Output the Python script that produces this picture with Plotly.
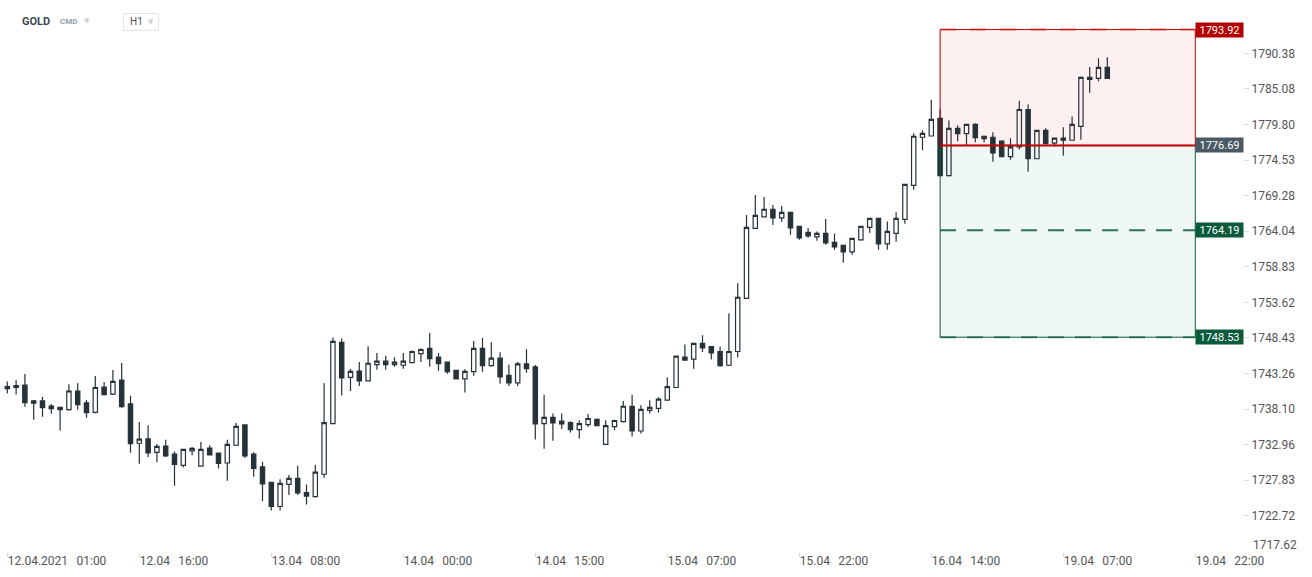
import math
import plotly.graph_objects as go

# ---------------- data (GOLD, H1) ----------------
opens = [1741.07, 1741.22, 1741.55, 1738.94, 1739.28, 1738.54, 1738.35, 1738.00, 1740.71, 1738.98,
         1737.61, 1741.26, 1740.26, 1742.29, 1738.84, 1733.15, 1733.78, 1731.83, 1732.75, 1731.58,
         1729.95, 1732.06, 1729.86, 1732.46, 1731.73, 1730.30, 1732.86, 1735.80, 1731.58, 1729.76,
         1727.51, 1724.04, 1727.21, 1728.09, 1726.04, 1725.45, 1728.68, 1736.00, 1747.77, 1742.69,
         1743.61, 1742.19, 1744.54, 1745.04, 1744.54, 1744.45, 1744.83, 1746.15, 1746.89, 1745.63,
         1744.89, 1743.72, 1742.48, 1743.51, 1746.89, 1744.39, 1745.48, 1742.98, 1741.89, 1744.64,
         1744.20, 1736.00, 1736.88, 1736.34, 1736.14, 1735.12, 1735.85, 1736.59, 1733.00, 1735.56,
         1736.29, 1738.50, 1734.92, 1737.91, 1738.20, 1739.38, 1741.22, 1745.63, 1745.33, 1747.62,
         1747.18, 1746.45, 1744.45, 1746.45, 1754.21, 1764.45, 1766.16, 1767.27, 1766.01, 1766.82,
         1764.75, 1763.86, 1763.22, 1763.72, 1762.39, 1761.95, 1761.01, 1762.78, 1764.60, 1765.92,
         1762.19, 1763.72, 1765.77, 1770.79, 1777.90, 1778.09, 1780.70, 1772.22, 1779.23, 1778.43,
         1779.81, 1778.05, 1777.90, 1777.32, 1775.02, 1776.49, 1782.02, 1774.72, 1778.93, 1777.02,
         1777.76, 1777.46, 1779.52, 1786.49, 1786.65, 1788.29]
highs = [1742.10, 1742.29, 1743.17, 1739.42, 1739.86, 1738.84, 1738.40, 1741.70, 1741.85, 1739.42,
         1742.88, 1742.00, 1743.76, 1744.79, 1740.01, 1736.22, 1735.75, 1733.05, 1733.64, 1731.97,
         1732.35, 1732.61, 1733.34, 1732.86, 1731.80, 1733.64, 1736.08, 1735.90, 1731.87, 1730.49,
         1727.60, 1727.95, 1728.58, 1729.90, 1727.21, 1730.05, 1741.85, 1748.50, 1748.36, 1743.91,
         1744.94, 1747.22, 1746.23, 1745.82, 1745.63, 1746.23, 1746.59, 1746.93, 1749.14, 1746.23,
         1745.00, 1743.80, 1743.86, 1747.96, 1748.40, 1747.81, 1746.34, 1744.54, 1744.94, 1746.78,
         1744.49, 1740.16, 1737.47, 1737.47, 1736.34, 1736.48, 1737.37, 1736.73, 1736.48, 1736.55,
         1739.28, 1740.16, 1738.64, 1739.38, 1739.82, 1742.69, 1745.85, 1747.47, 1747.70, 1748.80,
         1747.25, 1747.18, 1752.01, 1756.40, 1766.41, 1769.37, 1769.07, 1767.90, 1767.75, 1766.90,
         1764.85, 1764.50, 1764.01, 1765.82, 1763.72, 1762.05, 1763.05, 1764.85, 1766.00, 1766.00,
         1765.48, 1766.82, 1771.00, 1778.49, 1778.93, 1783.45, 1782.06, 1780.40, 1779.67, 1779.90,
         1779.96, 1778.15, 1778.64, 1777.46, 1777.76, 1783.30, 1782.77, 1779.00, 1779.23, 1777.85,
         1779.37, 1780.99, 1786.94, 1788.34, 1789.63, 1789.78]
lows = [1740.35, 1740.20, 1738.44, 1736.53, 1736.97, 1737.41, 1735.00, 1737.85, 1738.00, 1736.82,
        1737.50, 1740.06, 1740.15, 1738.30, 1731.77, 1730.20, 1731.18, 1730.40, 1731.18, 1727.01,
        1729.65, 1731.43, 1729.75, 1731.40, 1729.51, 1727.74, 1732.75, 1731.04, 1728.33, 1724.78,
        1723.46, 1723.46, 1725.68, 1725.68, 1724.34, 1725.35, 1728.18, 1735.90, 1740.06, 1740.72,
        1741.45, 1742.10, 1743.80, 1743.80, 1744.24, 1743.95, 1744.75, 1744.94, 1744.24, 1743.66,
        1743.22, 1742.40, 1740.50, 1742.92, 1743.51, 1744.24, 1741.75, 1741.45, 1741.45, 1743.36,
        1733.68, 1732.36, 1733.53, 1735.20, 1734.71, 1733.83, 1735.50, 1735.60, 1732.90, 1735.06,
        1736.14, 1734.12, 1734.56, 1737.47, 1737.61, 1739.30, 1741.15, 1745.10, 1743.95, 1746.39,
        1745.27, 1744.24, 1744.35, 1745.56, 1754.10, 1764.35, 1766.05, 1764.94, 1765.42, 1763.51,
        1762.78, 1763.07, 1762.63, 1762.04, 1761.31, 1759.42, 1760.57, 1762.63, 1763.80, 1761.31,
        1761.31, 1762.48, 1765.13, 1770.15, 1775.96, 1778.00, 1772.10, 1772.10, 1777.32, 1776.65,
        1777.16, 1777.16, 1774.28, 1774.95, 1774.57, 1776.10, 1772.81, 1774.65, 1776.90, 1776.49,
        1775.16, 1777.40, 1777.55, 1784.52, 1786.21, 1786.60]
closes = [1741.36, 1741.51, 1739.03, 1739.28, 1738.29, 1738.14, 1738.00, 1740.71, 1738.73, 1737.56,
          1741.22, 1740.20, 1742.10, 1738.44, 1733.09, 1733.74, 1731.77, 1732.71, 1731.33, 1730.09,
          1732.27, 1732.42, 1732.27, 1731.48, 1730.24, 1733.00, 1735.60, 1731.33, 1729.51, 1727.30,
          1724.04, 1727.36, 1728.09, 1725.98, 1725.54, 1728.98, 1736.14, 1747.92, 1742.63, 1743.57,
          1742.19, 1744.74, 1745.04, 1744.54, 1744.89, 1745.04, 1746.45, 1746.74, 1745.42, 1744.69,
          1743.51, 1742.48, 1743.57, 1746.89, 1744.39, 1745.48, 1742.77, 1741.89, 1744.64, 1743.95,
          1735.94, 1736.88, 1736.09, 1735.94, 1735.12, 1736.00, 1736.73, 1735.71, 1735.71, 1736.44,
          1738.50, 1734.92, 1738.06, 1738.35, 1739.53, 1741.36, 1745.77, 1745.19, 1747.62, 1746.98,
          1746.24, 1744.39, 1746.45, 1754.36, 1764.60, 1766.36, 1767.27, 1766.01, 1766.82, 1764.54,
          1763.07, 1763.36, 1763.72, 1762.33, 1761.75, 1761.01, 1762.98, 1764.75, 1765.92, 1762.19,
          1764.01, 1765.92, 1770.94, 1778.05, 1778.49, 1780.55, 1772.22, 1779.23, 1778.43, 1779.81,
          1777.84, 1777.70, 1775.60, 1775.02, 1776.49, 1782.02, 1774.72, 1778.93, 1776.96, 1777.76,
          1777.46, 1779.81, 1786.79, 1786.79, 1788.29, 1786.65]
candle_idx = list(range(len(opens)))

tick_idx = [0, 15, 30, 45, 60, 75, 90, 105, 120, 135]
tick_labels = ["12.04.2021 01:00", "12.04 16:00", "13.04 08:00", "14.04 00:00", "14.04 15:00",
               "15.04 07:00", "15.04 22:00", "16.04 14:00", "19.04 07:00", "19.04 22:00"]
price_ticks = [1790.38, 1785.08, 1779.80, 1774.53, 1769.28, 1764.04, 1758.83, 1753.62,
               1748.43, 1743.26, 1738.10, 1732.96, 1727.83, 1722.72, 1717.62]

level_tp = 1793.92
level_entry = 1776.69
level_mid = 1764.19
level_sl = 1748.53
zone_start = 106
zone_end = 135

symbol = "GOLD"
market = "CMD"
interval = "H1"

# ---------------- layout geometry ----------------
W, H = 1312, 577
PL, PR, PT, PB = 0, 1243, 0, 552
STEP = 8.8          # px per candle
FIRST = 7.3         # px of first candle centre


def pxx(x):
    return (x - PL) / (PR - PL)


def pyy(y):
    return 1 - (y - PT) / (PB - PT)


x_range = [(PL - FIRST) / STEP, (PR - FIRST) / STEP]
k = (math.log10(price_ticks[0]) - math.log10(price_ticks[-1])) / (551.3 - 53.3)
y_range = [math.log10(price_ticks[-1]) - (PB - 551.3) * k,
           math.log10(price_ticks[0]) + (53.3 - PT) * k]

DARK = "#263238"
RED = "#b30000"
GREEN = "#0b5a3c"
SP = "\u00a0\u00a0\u2009"

fig = go.Figure()
fig.add_trace(go.Candlestick(
    x=candle_idx, open=opens, high=highs, low=lows, close=closes,
    increasing=dict(line=dict(color=DARK, width=1.2), fillcolor="rgba(255,255,255,0)"),
    decreasing=dict(line=dict(color=DARK, width=1.2), fillcolor=DARK),
    whiskerwidth=0, showlegend=False, hoverinfo="skip",
))

shapes = []
# zone fills
shapes.append(dict(type="rect", xref="x", yref="y", x0=zone_start, x1=zone_end,
                   y0=level_entry, y1=level_tp, fillcolor="#fdf0f0", line=dict(width=0), layer="below"))
shapes.append(dict(type="rect", xref="x", yref="y", x0=zone_start, x1=zone_end,
                   y0=level_sl, y1=level_entry, fillcolor="#eff8f4", line=dict(width=0), layer="below"))
# zone borders
shapes.append(dict(type="rect", xref="x", yref="y", x0=zone_start, x1=zone_end,
                   y0=level_sl, y1=level_entry, line=dict(color=GREEN, width=1), layer="above"))
shapes.append(dict(type="rect", xref="x", yref="y", x0=zone_start, x1=zone_end,
                   y0=level_entry, y1=level_tp, line=dict(color=RED, width=1), layer="above"))
# level lines
shapes.append(dict(type="line", xref="x", yref="y", x0=zone_start, x1=zone_end, y0=level_tp, y1=level_tp,
                   line=dict(color="rgba(200,30,30,0.6)", width=2, dash="16px,14px"), layer="above"))
shapes.append(dict(type="line", xref="x", yref="y", x0=zone_start, x1=zone_end, y0=level_mid, y1=level_mid,
                   line=dict(color="rgba(11,90,60,0.85)", width=2, dash="16px,11px"), layer="above"))
shapes.append(dict(type="line", xref="x", yref="y", x0=zone_start, x1=zone_end, y0=level_sl, y1=level_sl,
                   line=dict(color="rgba(11,90,60,0.7)", width=2, dash="16px,11px"), layer="above"))
shapes.append(dict(type="line", xref="x", yref="y", x0=zone_start, x1=zone_end, y0=level_entry, y1=level_entry,
                   line=dict(color="#c00000", width=2), layer="above"))
# interval box in header
shapes.append(dict(type="rect", xref="paper", yref="paper", x0=pxx(123.5), x1=pxx(158.5),
                   y0=pyy(30.5), y1=pyy(13.5), line=dict(color="#e3e6e8", width=1),
                   fillcolor="white", layer="above"))

annotations = []
for val, col in [(level_tp, RED), (level_entry, "#4a5a64"), (level_mid, GREEN), (level_sl, GREEN)]:
    annotations.append(dict(x=zone_end, y=math.log10(val), xref="x", yref="y", xanchor="left",
                            yanchor="middle", text=f"{val:.2f}", showarrow=False,
                            font=dict(family="Roboto", size=11, color="white"),
                            bgcolor=col, width=45, height=12, borderpad=1, align="center"))

# lowest price label is lifted above the time axis (no tick mark), as in the original
annotations.append(dict(x=pxx(1251), y=pyy(545), xref="paper", yref="paper", xanchor="left", yanchor="middle",
                        text=f"{price_ticks[-1]:.2f}", showarrow=False,
                        font=dict(family="Roboto", size=12, color="#555")))

annotations.append(dict(x=pxx(20), y=pyy(21.5), xref="paper", yref="paper", xanchor="left", yanchor="middle",
                        text=f"<b>{symbol}</b>", showarrow=False,
                        font=dict(family="Roboto", size=11, color="#3d4852")))
annotations.append(dict(x=pxx(58), y=pyy(21.5), xref="paper", yref="paper", xanchor="left", yanchor="middle",
                        text=f"<b>{market}</b>", showarrow=False,
                        font=dict(family="Roboto", size=8, color="#8fa0ab")))
annotations.append(dict(x=pxx(82), y=pyy(20.5), xref="paper", yref="paper", xanchor="left", yanchor="middle",
                        text="\u25BC", showarrow=False,
                        font=dict(family="DejaVu Sans", size=7, color="#c8ced3")))
annotations.append(dict(x=pxx(128), y=pyy(22), xref="paper", yref="paper", xanchor="left", yanchor="middle",
                        text=interval, showarrow=False,
                        font=dict(family="Roboto", size=10, color="#555")))
annotations.append(dict(x=pxx(146), y=pyy(21.5), xref="paper", yref="paper", xanchor="left", yanchor="middle",
                        text="\u25BC", showarrow=False,
                        font=dict(family="DejaVu Sans", size=7, color="#c8ced3")))

fig.update_layout(
    width=W, height=H,
    margin=dict(l=PL, r=W - PR, t=PT, b=H - PB, pad=0),
    paper_bgcolor="white", plot_bgcolor="white",
    font=dict(family="Roboto", size=12, color="#555"),
    showlegend=False,
    shapes=shapes,
    annotations=annotations,
    xaxis=dict(
        type="linear", range=x_range, rangeslider=dict(visible=False),
        tickmode="array", tickvals=tick_idx, ticktext=[t.replace(" ", SP) for t in tick_labels],
        ticks="outside", ticklen=4, tickcolor="#d5d5d5", tickwidth=1,
        ticklabelposition="outside right", ticklabelstandoff=-2,
        tickfont=dict(family="Roboto", size=12, color="#555"),
        showgrid=False, zeroline=False, showline=False, fixedrange=True,
    ),
    yaxis=dict(
        type="log", range=y_range, side="right",
        tickmode="array", tickvals=price_ticks[:-1], ticktext=[f"{v:.2f}" for v in price_ticks[:-1]],
        ticks="outside", ticklen=5, tickcolor="#dcdcdc", tickwidth=1,
        tickfont=dict(family="Roboto", size=12, color="#555"),
        showgrid=False, zeroline=False, showline=False, fixedrange=True,
    ),
)

fig.write_html("out.html", config={"displayModeBar": False},
               post_script="document.body.style.margin='0';document.body.style.overflow='hidden';")
